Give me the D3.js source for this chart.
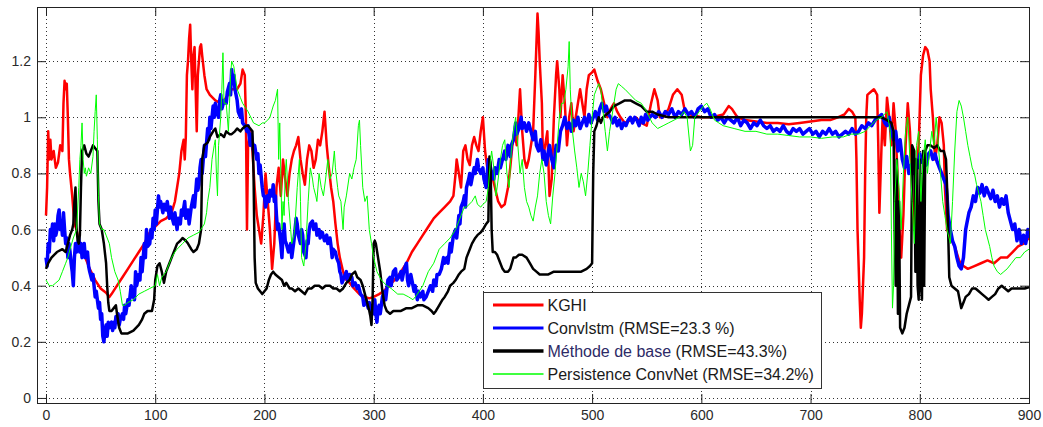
<!DOCTYPE html>
<html>
<head>
<meta charset="utf-8">
<script src="https://cdn.jsdelivr.net/npm/d3@7"></script>
<style>
  body { margin: 0; background: #fff; }
  svg { display: block; font-family: "Liberation Sans", Arial, sans-serif; }
</style>
</head>
<body>
<div id="chart"></div>
<script>
// values: [x, y]
var kghi = [[0,0.65],[1,0.75],[2,0.95],[3,0.85],[4,0.92],[5,0.85],[7,0.88],[9,0.82],[11,0.84],[13,0.9],[15,0.88],[16,1.05],[17,1.13],[18,1.1],[19,1.12],[20,1.0],[21,0.85],[22,0.8],[24,0.72],[26,0.62],[28,0.6],[30,0.56],[33,0.53],[35,0.51],[40,0.46],[45,0.42],[50,0.39],[55,0.375],[58,0.36],[60,0.37],[65,0.4],[70,0.43],[75,0.46],[80,0.49],[85,0.52],[90,0.55],[95,0.59],[100,0.61],[105,0.63],[110,0.64],[115,0.66],[118,0.7],[120,0.75],[122,0.8],[124,0.88],[126,0.92],[127,0.85],[128,0.93],[129,1.15],[130,1.2],[131,1.28],[132,1.33],[133,1.2],[134,1.1],[135,1.22],[136,1.25],[137,1.1],[138,0.95],[139,1.15],[140,1.2],[141,1.25],[142,1.26],[143,1.22],[145,1.15],[147,1.1],[150,1.08],[155,1.06],[160,1.05],[165,1.07],[170,1.1],[175,1.1],[178,1.12],[180,1.17],[182,1.15],[183,1.0],[184,0.6],[185,0.9],[187,0.95],[189,0.88],[191,0.75],[193,0.65],[195,0.6],[197,0.55],[199,0.65],[201,0.8],[203,0.7],[205,0.6],[207,0.46],[209,0.55],[211,0.75],[213,0.82],[215,0.72],[217,0.85],[219,0.78],[221,0.72],[223,0.8],[225,0.85],[227,0.88],[229,0.9],[231,0.93],[233,0.85],[235,0.8],[237,0.76],[239,0.85],[241,0.9],[243,0.88],[245,0.82],[247,0.85],[249,0.92],[251,0.9],[253,0.95],[255,1.02],[257,0.9],[259,0.82],[261,0.75],[263,0.7],[265,0.62],[267,0.55],[269,0.5],[272,0.45],[275,0.42],[278,0.41],[282,0.39],[287,0.37],[292,0.36],[296,0.355],[300,0.36],[305,0.37],[309,0.38],[314,0.4],[319,0.42],[325,0.45],[330,0.48],[335,0.52],[340,0.55],[345,0.58],[350,0.61],[355,0.64],[360,0.66],[365,0.68],[370,0.7],[373,0.72],[375,0.8],[376,0.85],[378,0.8],[380,0.75],[382,0.88],[384,0.9],[386,0.85],[388,0.83],[390,0.9],[392,0.93],[394,0.9],[396,0.88],[398,0.95],[400,1.0],[402,0.88],[404,0.82],[406,0.78],[408,0.8],[411,0.75],[414,0.7],[417,0.68],[420,0.69],[423,0.75],[425,0.82],[427,0.9],[429,0.95],[431,0.9],[434,1.1],[436,0.95],[438,0.85],[440,0.82],[442,0.85],[444,0.9],[446,0.95],[448,1.15],[450,1.37],[451,1.3],[452,1.2],[454,1.05],[455,0.85],[457,0.9],[459,0.95],[461,0.72],[463,0.78],[465,1.0],[467,1.15],[468,1.2],[470,1.1],[471,1.0],[473,1.15],[475,1.05],[477,0.9],[479,1.0],[481,1.05],[483,0.95],[485,1.0],[487,1.05],[489,1.1],[491,1.05],[493,1.0],[495,1.1],[497,1.15],[500,1.16],[502,1.17],[505,1.13],[508,1.1],[511,1.05],[514,1.0],[517,1.03],[520,1.05],[523,1.02],[526,1.0],[530,0.98],[535,0.99],[540,1.0],[545,0.98],[550,0.97],[554,1.05],[557,1.1],[560,1.06],[562,1.0],[565,1.0],[570,1.03],[574,1.08],[578,1.1],[582,1.08],[585,1.02],[590,1.01],[600,1.0],[610,1.0],[620,1.01],[625,1.04],[628,1.03],[633,1.0],[640,0.99],[650,0.985],[660,0.98],[670,0.98],[680,0.975],[690,0.98],[700,0.985],[710,0.99],[718,0.99],[725,1.0],[731,1.01],[735,1.03],[738,1.02],[741,1.0],[742,0.85],[743,0.6],[745,0.35],[746,0.25],[747,0.3],[749,0.5],[750,0.8],[751,1.0],[752,1.08],[755,1.09],[758,1.1],[761,1.08],[762,0.9],[763,0.66],[765,0.9],[766,1.0],[768,0.9],[770,1.07],[772,1.0],[774,0.9],[776,1.05],[778,0.95],[780,0.75],[782,0.55],[783,0.5],[785,0.65],[787,0.9],[789,1.05],[791,0.95],[793,0.75],[795,0.6],[797,0.8],[799,0.9],[801,1.15],[803,1.22],[805,1.25],[807,1.24],[809,1.2],[810,1.1],[812,1.0],[814,0.85],[816,0.9],[818,1.0],[820,0.98],[822,0.9],[823,0.75],[825,0.6],[828,0.57],[832,0.54],[836,0.49],[840,0.47],[844,0.46],[850,0.47],[856,0.48],[862,0.49],[868,0.48],[874,0.5],[880,0.5],[885,0.52],[890,0.54],[895,0.55],[900,0.57]];

var convlstm = [[0,0.5],[1,0.47],[2,0.55],[3,0.52],[4,0.6],[5,0.58],[6,0.62],[7,0.56],[8,0.62],[9,0.58],[10,0.6],[11,0.65],[12,0.67],[13,0.6],[14,0.63],[15,0.58],[16,0.66],[17,0.6],[18,0.55],[19,0.57],[20,0.5],[21,0.55],[22,0.52],[23,0.48],[24,0.45],[25,0.4],[26,0.5],[27,0.55],[28,0.52],[30,0.57],[31,0.52],[32,0.55],[33,0.5],[35,0.55],[36,0.5],[38,0.52],[39,0.47],[40,0.45],[42,0.42],[43,0.44],[45,0.36],[46,0.38],[48,0.32],[49,0.34],[50,0.28],[51,0.3],[52,0.22],[53,0.2],[54,0.24],[55,0.26],[56,0.22],[57,0.27],[58,0.25],[60,0.27],[61,0.24],[62,0.27],[63,0.25],[64,0.29],[65,0.27],[66,0.3],[67,0.26],[68,0.28],[70,0.3],[71,0.28],[72,0.33],[73,0.3],[75,0.35],[76,0.33],[78,0.4],[79,0.36],[80,0.38],[81,0.35],[82,0.45],[83,0.4],[85,0.44],[86,0.42],[87,0.5],[88,0.45],[90,0.55],[91,0.5],[92,0.6],[93,0.54],[95,0.55],[96,0.6],[97,0.57],[98,0.64],[99,0.6],[100,0.67],[101,0.62],[103,0.72],[104,0.68],[105,0.7],[107,0.66],[108,0.69],[110,0.67],[111,0.7],[113,0.64],[114,0.68],[115,0.65],[117,0.62],[118,0.66],[120,0.6],[121,0.64],[123,0.62],[124,0.67],[125,0.65],[127,0.7],[128,0.64],[130,0.67],[131,0.62],[133,0.68],[135,0.72],[136,0.68],[138,0.78],[139,0.74],[140,0.76],[141,0.82],[142,0.85],[143,0.8],[145,0.9],[146,0.86],[148,0.96],[149,0.92],[150,1.0],[151,0.96],[153,1.04],[154,1.0],[155,1.05],[156,1.02],[158,1.0],[159,1.06],[160,1.08],[161,1.03],[163,1.06],[165,1.05],[166,1.09],[168,1.12],[169,1.08],[170,1.17],[171,1.12],[172,1.15],[173,1.1],[175,1.06],[176,1.02],[178,1.0],[179,1.03],[180,0.98],[182,0.97],[184,0.95],[185,0.97],[187,0.9],[188,0.94],[190,0.88],[191,0.9],[193,0.85],[194,0.87],[195,0.8],[196,0.83],[198,0.75],[199,0.72],[200,0.72],[201,0.68],[203,0.72],[204,0.7],[205,0.74],[207,0.72],[208,0.76],[209,0.7],[210,0.72],[211,0.65],[212,0.6],[213,0.62],[215,0.55],[216,0.5],[217,0.58],[218,0.62],[219,0.56],[220,0.55],[222,0.52],[224,0.55],[225,0.5],[227,0.56],[228,0.6],[229,0.64],[230,0.62],[231,0.58],[233,0.55],[234,0.6],[235,0.58],[236,0.52],[238,0.5],[239,0.56],[240,0.55],[241,0.6],[242,0.62],[244,0.63],[245,0.6],[247,0.62],[248,0.58],[250,0.6],[251,0.57],[253,0.59],[255,0.56],[257,0.58],[258,0.55],[260,0.57],[261,0.54],[262,0.5],[263,0.53],[265,0.52],[266,0.5],[268,0.48],[269,0.45],[270,0.44],[271,0.41],[273,0.43],[275,0.45],[276,0.42],[278,0.44],[280,0.43],[281,0.4],[283,0.41],[285,0.39],[286,0.4],[288,0.37],[290,0.36],[291,0.33],[293,0.35],[295,0.32],[296,0.34],[298,0.3],[299,0.33],[300,0.3],[301,0.35],[302,0.3],[303,0.27],[304,0.32],[305,0.33],[306,0.3],[308,0.36],[310,0.38],[311,0.35],[313,0.42],[315,0.43],[316,0.4],[318,0.45],[320,0.46],[321,0.42],[323,0.43],[325,0.45],[326,0.42],[328,0.46],[330,0.48],[331,0.42],[332,0.4],[334,0.44],[335,0.42],[337,0.38],[338,0.4],[340,0.35],[341,0.38],[343,0.36],[345,0.38],[346,0.35],[348,0.36],[350,0.38],[352,0.4],[354,0.38],[355,0.42],[357,0.4],[358,0.44],[360,0.44],[362,0.46],[364,0.5],[365,0.48],[367,0.5],[368,0.48],[370,0.55],[371,0.52],[373,0.58],[375,0.6],[376,0.57],[378,0.65],[379,0.62],[380,0.68],[382,0.7],[383,0.72],[384,0.68],[385,0.75],[387,0.78],[388,0.8],[389,0.76],[390,0.78],[392,0.82],[393,0.8],[395,0.85],[396,0.82],[398,0.8],[400,0.82],[401,0.78],[403,0.75],[404,0.8],[405,0.85],[407,0.82],[408,0.8],[410,0.78],[411,0.82],[413,0.8],[415,0.85],[416,0.82],[418,0.85],[420,0.88],[421,0.85],[423,0.9],[425,0.86],[426,0.9],[428,0.92],[430,0.98],[431,0.94],[433,0.96],[435,1.0],[436,0.96],[438,0.98],[440,0.95],[442,0.98],[444,0.95],[446,0.92],[448,0.95],[449,0.9],[451,0.88],[453,0.92],[455,0.85],[456,0.88],[458,0.83],[460,0.88],[461,0.9],[463,0.85],[465,0.82],[467,0.9],[469,0.88],[471,0.95],[473,0.97],[475,1.0],[477,0.96],[479,0.98],[481,0.95],[483,0.99],[485,0.97],[487,1.0],[489,0.96],[491,0.98],[493,1.0],[495,0.97],[497,1.01],[499,0.98],[501,1.0],[503,1.02],[505,0.99],[507,1.03],[509,1.05],[511,1.02],[513,1.04],[515,1.01],[517,1.0],[519,0.98],[521,1.0],[523,0.97],[525,0.99],[527,0.96],[529,0.98],[531,0.97],[533,0.99],[535,1.0],[537,0.98],[539,1.0],[541,0.99],[543,0.97],[545,1.0],[547,0.98],[549,1.01],[551,0.99],[553,1.0],[555,1.01],[558,1.0],[561,1.02],[564,1.0],[567,1.02],[570,1.01],[573,1.03],[576,1.0],[579,1.02],[582,1.01],[585,1.03],[588,1.01],[591,1.02],[594,1.0],[597,1.03],[600,1.04],[603,1.02],[606,1.03],[609,1.0],[612,1.01],[615,0.99],[618,1.0],[621,0.98],[624,1.0],[627,0.99],[630,0.98],[633,1.0],[636,0.97],[639,0.99],[642,0.98],[645,0.96],[648,0.98],[651,0.97],[654,0.99],[657,0.97],[660,0.96],[663,0.97],[666,0.95],[669,0.96],[672,0.95],[675,0.97],[678,0.95],[681,0.94],[684,0.96],[687,0.95],[690,0.96],[693,0.94],[696,0.95],[699,0.96],[702,0.94],[705,0.95],[708,0.93],[711,0.95],[714,0.94],[717,0.96],[720,0.94],[723,0.95],[726,0.93],[729,0.94],[732,0.95],[735,0.94],[738,0.96],[741,0.94],[744,0.95],[747,0.97],[750,0.96],[753,0.98],[756,0.97],[759,0.99],[762,1.0],[765,1.01],[768,0.98],[770,0.97],[772,1.0],[774,0.95],[776,0.92],[778,0.95],[780,0.88],[782,0.92],[784,0.85],[786,0.82],[788,0.86],[790,0.8],[792,0.83],[794,0.8],[796,0.85],[798,0.82],[800,0.87],[802,0.84],[804,0.86],[806,0.83],[808,0.87],[810,0.88],[812,0.85],[814,0.87],[816,0.84],[818,0.82],[820,0.8],[822,0.78],[824,0.76],[825,0.72],[826,0.65],[828,0.6],[830,0.56],[832,0.54],[834,0.5],[836,0.47],[838,0.46],[840,0.5],[842,0.6],[843,0.62],[845,0.66],[847,0.68],[849,0.72],[851,0.7],[853,0.75],[855,0.73],[857,0.76],[859,0.72],[861,0.75],[863,0.73],[865,0.71],[867,0.74],[869,0.7],[871,0.72],[873,0.68],[875,0.71],[877,0.69],[879,0.72],[881,0.66],[883,0.63],[885,0.6],[887,0.62],[889,0.56],[891,0.6],[893,0.55],[895,0.58],[897,0.55],[899,0.6],[900,0.57]];

var baseMethod = [[0,0.46],[2,0.48],[5,0.5],[10,0.52],[15,0.53],[18,0.52],[20,0.55],[22,0.58],[24,0.6],[25,0.62],[26,0.7],[27,0.75],[28,0.6],[29,0.56],[30,0.55],[31,0.58],[32,0.75],[33,0.88],[35,0.9],[37,0.87],[39,0.86],[41,0.88],[43,0.9],[45,0.89],[47,0.88],[48,0.7],[49,0.62],[51,0.6],[53,0.55],[55,0.48],[56,0.4],[57,0.34],[58,0.31],[60,0.31],[62,0.32],[64,0.33],[65,0.3],[67,0.25],[69,0.23],[72,0.23],[75,0.23],[80,0.24],[85,0.26],[88,0.28],[90,0.3],[93,0.31],[97,0.31],[99,0.35],[100,0.42],[102,0.47],[104,0.48],[106,0.45],[108,0.41],[110,0.45],[113,0.48],[115,0.5],[118,0.53],[120,0.55],[123,0.56],[125,0.57],[128,0.56],[130,0.55],[133,0.53],[135,0.52],[138,0.53],[140,0.55],[142,0.6],[143,0.85],[145,0.9],[148,0.91],[150,0.93],[153,0.95],[155,0.96],[157,0.93],[160,0.94],[163,0.93],[165,0.95],[168,0.94],[170,0.94],[173,0.95],[175,0.96],[178,0.95],[180,0.96],[183,0.97],[185,0.97],[187,0.96],[189,0.95],[190,0.8],[191,0.5],[192,0.41],[194,0.39],[196,0.38],[198,0.37],[200,0.38],[202,0.39],[204,0.42],[206,0.44],[208,0.45],[210,0.44],[213,0.43],[216,0.42],[218,0.4],[220,0.41],[223,0.39],[225,0.39],[228,0.38],[231,0.39],[234,0.38],[237,0.37],[240,0.39],[243,0.39],[246,0.4],[250,0.4],[253,0.39],[256,0.4],[260,0.4],[263,0.39],[266,0.39],[269,0.38],[272,0.39],[275,0.41],[278,0.42],[280,0.44],[283,0.45],[285,0.43],[288,0.42],[290,0.4],[292,0.37],[294,0.34],[296,0.31],[297,0.29],[298,0.26],[299,0.35],[300,0.55],[301,0.56],[302,0.55],[304,0.5],[306,0.45],[308,0.38],[310,0.33],[312,0.31],[315,0.3],[318,0.31],[320,0.31],[325,0.31],[330,0.32],[335,0.32],[340,0.33],[345,0.33],[350,0.32],[353,0.31],[355,0.3],[357,0.31],[360,0.33],[363,0.35],[365,0.36],[368,0.38],[370,0.4],[373,0.41],[375,0.42],[378,0.44],[380,0.45],[383,0.46],[385,0.5],[388,0.53],[390,0.55],[393,0.57],[395,0.58],[398,0.59],[400,0.6],[403,0.62],[405,0.63],[406,0.86],[407,0.84],[408,0.6],[409,0.52],[411,0.52],[413,0.51],[415,0.49],[418,0.46],[420,0.45],[423,0.45],[425,0.46],[428,0.5],[430,0.5],[433,0.51],[436,0.51],[440,0.5],[443,0.48],[446,0.46],[449,0.45],[452,0.44],[455,0.44],[460,0.44],[465,0.45],[470,0.45],[475,0.45],[480,0.45],[485,0.45],[490,0.45],[495,0.46],[498,0.47],[500,0.48],[501,0.8],[502,0.95],[504,0.97],[506,1.0],[508,0.98],[510,1.0],[513,1.01],[516,1.02],[520,1.04],[525,1.05],[530,1.06],[535,1.06],[540,1.05],[545,1.04],[550,1.02],[555,1.02],[560,1.01],[570,1.0],[580,1.0],[590,1.0],[600,1.0],[650,1.0],[700,1.0],[765,1.0],[770,0.99],[774,0.98],[776,0.95],[777,0.6],[778,0.4],[779,0.85],[780,0.3],[781,0.7],[782,0.25],[784,0.23],[786,0.25],[788,0.3],[790,0.33],[792,0.36],[793,0.9],[795,0.88],[796,0.45],[797,0.85],[798,0.4],[799,0.35],[800,0.85],[801,0.4],[802,0.35],[803,0.88],[804,0.4],[805,0.88],[807,0.9],[810,0.9],[813,0.89],[816,0.9],[819,0.88],[822,0.88],[824,0.85],[825,0.75],[827,0.43],[829,0.4],[832,0.39],[835,0.38],[838,0.32],[840,0.34],[842,0.36],[845,0.37],[848,0.39],[851,0.39],[854,0.38],[857,0.37],[860,0.36],[863,0.35],[866,0.36],[869,0.37],[872,0.39],[875,0.4],[878,0.39],[881,0.38],[884,0.39],[888,0.39],[892,0.39],[896,0.39],[900,0.395]];

var persistence = [[0,0.42],[3,0.4],[6,0.4],[9,0.41],[12,0.42],[15,0.45],[18,0.48],[20,0.5],[22,0.53],[25,0.57],[28,0.6],[30,0.75],[31,0.85],[32,0.9],[33,0.98],[34,0.85],[35,0.8],[36,0.82],[37,0.79],[39,0.82],[41,0.8],[43,0.86],[44,0.95],[45,1.02],[46,1.08],[47,0.92],[48,0.72],[49,0.62],[51,0.6],[53,0.6],[55,0.58],[58,0.55],[60,0.5],[63,0.45],[66,0.42],[68,0.38],[70,0.33],[72,0.33],[75,0.34],[80,0.35],[85,0.37],[90,0.38],[95,0.39],[100,0.4],[102,0.44],[104,0.4],[106,0.43],[108,0.44],[110,0.45],[113,0.48],[115,0.5],[118,0.52],[120,0.53],[125,0.55],[130,0.57],[135,0.58],[140,0.59],[145,0.62],[147,0.66],[148,0.7],[150,0.75],[152,0.85],[154,0.9],[155,0.92],[156,0.8],[157,0.72],[158,0.9],[160,1.0],[161,1.1],[162,1.23],[163,1.05],[165,1.05],[166,1.0],[167,0.95],[168,1.05],[169,1.15],[170,1.2],[172,1.18],[175,1.1],[178,1.07],[180,1.05],[185,1.02],[190,0.98],[195,0.97],[198,0.98],[200,0.98],[203,0.99],[205,1.0],[208,1.04],[210,1.06],[212,1.1],[213,0.85],[214,0.98],[215,0.8],[216,0.6],[217,0.7],[218,0.65],[219,0.8],[220,0.85],[222,0.7],[224,0.6],[225,0.55],[227,0.58],[228,0.62],[230,0.75],[232,0.85],[233,0.7],[234,0.5],[236,0.47],[238,0.55],[240,0.7],[242,0.82],[244,0.78],[245,0.75],[247,0.72],[248,0.7],[250,0.8],[252,0.75],[254,0.72],[256,0.78],[258,0.85],[260,0.78],[262,0.8],[264,0.88],[265,0.82],[267,0.75],[268,0.72],[270,0.7],[272,0.6],[273,0.68],[275,0.72],[278,0.8],[280,0.78],[282,0.82],[284,0.85],[286,0.97],[287,0.99],[288,0.9],[290,0.75],[292,0.7],[294,0.72],[296,0.6],[298,0.55],[300,0.5],[303,0.45],[307,0.42],[312,0.4],[316,0.39],[322,0.37],[327,0.37],[332,0.36],[336,0.35],[340,0.37],[345,0.4],[350,0.45],[355,0.48],[360,0.53],[365,0.55],[370,0.57],[375,0.6],[380,0.65],[383,0.68],[385,0.68],[390,0.7],[393,0.72],[395,0.69],[398,0.68],[400,0.69],[403,0.7],[405,0.75],[407,0.85],[408,0.88],[410,0.82],[412,0.72],[414,0.78],[416,0.85],[418,0.9],[420,0.92],[422,0.8],[424,0.75],[426,0.88],[428,0.95],[430,1.0],[432,0.9],[434,0.8],[436,0.85],[438,0.75],[440,0.7],[442,0.68],[444,0.65],[446,0.63],[448,0.68],[450,0.72],[452,0.8],[454,0.85],[456,0.8],[458,0.7],[460,0.65],[462,0.62],[464,0.72],[466,0.8],[468,0.9],[470,1.0],[472,1.05],[474,1.05],[476,1.1],[478,1.18],[479,1.27],[480,1.1],[482,0.95],[484,0.88],[486,0.82],[488,0.75],[490,0.8],[492,0.77],[494,0.72],[496,0.8],[498,0.9],[500,1.0],[502,1.08],[504,1.1],[506,1.12],[508,1.1],[510,1.02],[512,0.95],[514,0.88],[516,0.95],[518,1.0],[520,1.05],[522,1.1],[524,1.12],[527,1.11],[530,1.1],[535,1.08],[540,1.06],[545,1.05],[550,1.02],[555,0.98],[560,0.96],[565,0.97],[570,0.98],[575,0.99],[580,1.0],[584,1.02],[587,1.0],[590,0.88],[592,0.9],[594,1.0],[598,1.02],[602,1.04],[605,1.05],[608,1.03],[612,0.99],[616,0.98],[620,0.97],[630,0.96],[640,0.95],[650,0.95],[660,0.94],[670,0.94],[680,0.935],[690,0.93],[700,0.93],[710,0.925],[720,0.93],[730,0.93],[737,0.94],[744,0.94],[750,0.95],[755,0.97],[760,0.99],[765,1.0],[770,1.02],[773,0.95],[774,0.6],[775,0.32],[776,0.4],[777,0.7],[779,0.85],[781,0.75],[783,0.6],[785,0.8],[787,0.95],[789,1.0],[791,0.85],[793,0.7],[795,0.55],[797,0.9],[799,0.95],[801,0.7],[803,0.85],[805,0.92],[807,0.8],[809,0.88],[811,0.95],[813,0.9],[815,1.0],[817,0.9],[819,0.8],[821,0.7],[823,0.65],[825,0.6],[828,0.55],[830,0.7],[832,0.88],[834,1.02],[836,1.06],[838,1.04],[840,1.0],[842,0.95],[844,0.9],[846,0.86],[848,0.82],[850,0.8],[852,0.76],[854,0.73],[856,0.7],[858,0.65],[860,0.6],[862,0.57],[864,0.54],[866,0.5],[868,0.47],[871,0.45],[874,0.44],[877,0.45],[880,0.46],[884,0.48],[888,0.5],[892,0.5],[896,0.52],[900,0.53]];

var xTicks = [0, 100, 200, 300, 400, 500, 600, 700, 800, 900];
var yTicks = [0, 0.2, 0.4, 0.6, 0.8, 1, 1.2];

var seriesNames = ["KGHI", "Convlstm (RMSE=23.3 %)", "Méthode de base", "Persistence ConvNet (RMSE=34.2%)"];

var svgW = 1043;
var svgH = 427;
var box = { left: 37, right: 1029, top: 7, bottom: 403 };

var svg = d3.select("#chart")
    .append("svg")
    .attr("width", svgW)
    .attr("height", svgH);

svg.append("rect")
    .attr("width", svgW)
    .attr("height", svgH)
    .attr("fill", "#fff");

var xScale = d3.scaleLinear()
    .domain([-8.25, 900])
    .range([box.left, box.right]);

var yScale = d3.scaleLinear()
    .domain([-0.018, 1.393])
    .range([box.bottom, box.top]);

// dotted grid
var grid = svg.append("g");
grid.selectAll(".vgrid")
    .data(xTicks)
    .enter()
    .append("line")
    .attr("x1", function(d) { return Math.round(xScale(d)) + 0.5 })
    .attr("x2", function(d) { return Math.round(xScale(d)) + 0.5 })
    .attr("y1", box.top)
    .attr("y2", box.bottom)
    .attr("stroke", "#333")
    .attr("stroke-dasharray", "1,3");

grid.selectAll(".hgrid")
    .data(yTicks)
    .enter()
    .append("line")
    .attr("y1", function(d) { return Math.round(yScale(d)) + 0.5 })
    .attr("y2", function(d) { return Math.round(yScale(d)) + 0.5 })
    .attr("x1", box.left)
    .attr("x2", box.right)
    .attr("stroke", "#333")
    .attr("stroke-dasharray", "1,3");

svg.append("clipPath").attr("id", "plotClip")
    .append("rect")
    .attr("x", box.left)
    .attr("y", box.top)
    .attr("width", box.right - box.left)
    .attr("height", box.bottom - box.top);

var line = d3.line()
    .x(function(d) { return xScale(d[0]) })
    .y(function(d) { return yScale(d[1]) });

var plotG = svg.append("g").attr("clip-path", "url(#plotClip)");

var seriesList = [
    { data: kghi, color: "#ff0000", width: 2.5 },
    { data: convlstm, color: "#0000ff", width: 3.5 },
    { data: baseMethod, color: "#000000", width: 2.5 },
    { data: persistence, color: "#00ff00", width: 1 }
];

seriesList.forEach(function(s) {
    plotG.append("path")
        .datum(s.data)
        .attr("d", line)
        .attr("fill", "none")
        .attr("stroke", s.color)
        .attr("stroke-width", s.width)
        .attr("stroke-linejoin", "round");
});

// axes box with inward ticks on all sides
var bAxis = d3.axisBottom(xScale).tickValues(xTicks).tickSize(-9).tickPadding(7).tickFormat(d3.format("d"));
var tAxis = d3.axisTop(xScale).tickValues(xTicks).tickSize(-9).tickFormat("");
var lAxis = d3.axisLeft(yScale).tickValues(yTicks).tickSize(-9).tickPadding(6).tickFormat(function(d) { return d3.format("")(+d.toFixed(1)) });
var rAxis = d3.axisRight(yScale).tickValues(yTicks).tickSize(-9).tickFormat("");

function styleAxis(g) {
    g.select(".domain").remove();
    g.selectAll(".tick line").attr("stroke", "#222");
    g.selectAll("text")
        .attr("fill", "#2a2a2a")
        .style("font-size", "14px")
        .style("font-family", "Liberation Sans, Arial, sans-serif");
}

svg.append("g").attr("transform", "translate(0," + box.bottom + ")").call(bAxis).call(styleAxis);
svg.append("g").attr("transform", "translate(0," + box.top + ")").call(tAxis).call(styleAxis);
svg.append("g").attr("transform", "translate(" + box.left + ",0)").call(lAxis).call(styleAxis);
svg.append("g").attr("transform", "translate(" + box.right + ",0)").call(rAxis).call(styleAxis);

svg.append("rect")
    .attr("x", box.left + 0.5)
    .attr("y", box.top + 0.5)
    .attr("width", box.right - box.left)
    .attr("height", box.bottom - box.top)
    .attr("fill", "none")
    .attr("stroke", "#222")
    .attr("stroke-width", 1);

// legend
var legG = svg.append("g").attr("transform", "translate(483.5,292.5)");
legG.append("rect")
    .attr("width", 338)
    .attr("height", 96)
    .attr("fill", "#fff")
    .attr("stroke", "#333");

var legWidths = [3, 3, 3.5, 1.5];
seriesList.forEach(function(s, i) {
    var yy = 12.5 + i * 23;
    legG.append("line")
        .attr("x1", 9.5)
        .attr("x2", 60)
        .attr("y1", yy)
        .attr("y2", yy)
        .attr("stroke", s.color)
        .attr("stroke-width", legWidths[i]);
    var t = legG.append("text")
        .attr("x", 64)
        .attr("y", yy)
        .attr("dy", "0.36em")
        .attr("fill", "#1a1a1a")
        .style("font-size", "16px");
    if (i == 2) {
        t.append("tspan").attr("fill", "#2d2a66").text(seriesNames[i]);
        t.append("tspan").text(" (RMSE=43.3%)");
    } else {
        t.text(seriesNames[i]);
    }
});
</script>
</body>
</html>
